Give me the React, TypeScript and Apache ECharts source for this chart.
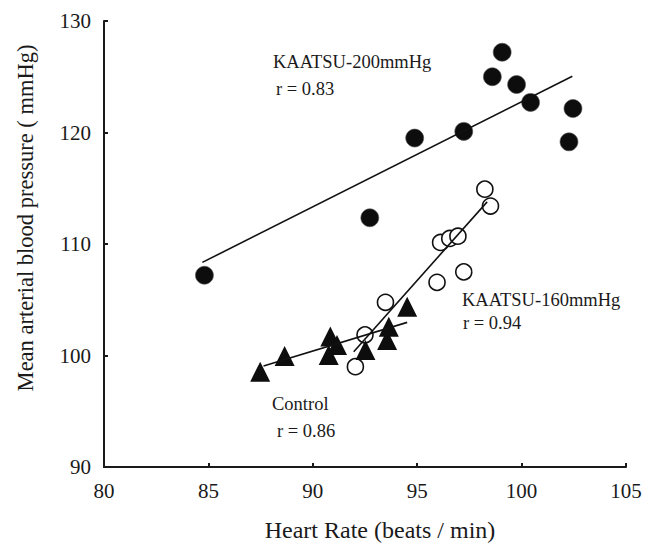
import React, { useEffect, useRef } from "react";
import * as echarts from "echarts";

// KAATSU-200mmHg (filled circles)
const hr200 = [84.81, 92.73, 94.88, 97.23, 98.6, 99.07, 99.76, 100.43, 102.27, 102.46];
const map200 = [107.2, 112.35, 119.5, 120.1, 125.0, 127.2, 124.3, 122.7, 119.16, 122.15];
// KAATSU-160mmHg (open circles)
const hr160 = [92.04, 92.5, 93.48, 95.95, 96.12, 96.56, 96.95, 97.23, 98.24, 98.51];
const map160 = [99.0, 101.85, 104.77, 106.56, 110.14, 110.5, 110.7, 107.5, 114.92, 113.4];
// Control (triangles)
const hrCtl = [87.48, 88.65, 90.76, 90.84, 91.16, 92.52, 93.56, 93.64, 94.52];
const mapCtl = [98.55, 99.95, 100.05, 101.7, 100.94, 100.5, 101.4, 102.58, 104.37];

// regression line end points
const fit200X = [84.71, 102.43];
const fit200Y = [108.35, 125.04];
const fit160X = [91.96, 98.35];
const fit160Y = [100.34, 113.78];
const fitCtlX = [87.64, 94.52];
const fitCtlY = [99.06, 102.97];

const xTicks = { min: 80, max: 105, interval: 5 };
const yTicks = { min: 90, max: 130, interval: 10 };

const zip = (xs: number[], ys: number[]) => xs.map((x, i) => [x, ys[i]]);

const FONT = "'Liberation Serif', 'Times New Roman', serif";
const INK = "#1a1a1a";

export default function App() {
  const ref = useRef<HTMLDivElement>(null);
  useEffect(() => {
    if (!ref.current) return;
    const chart = echarts.init(ref.current, null, { renderer: "svg" });
    const axisCommon = {
      type: "value" as const,
      axisLine: { show: true, lineStyle: { color: INK, width: 2 } },
      axisTick: { show: true, inside: true, length: 4, lineStyle: { color: INK, width: 2 } },
      splitLine: { show: false },
      axisLabel: { color: INK, fontFamily: FONT, fontSize: 21, margin: 13 },
    };
    const txt = (text: string, x: number, y: number, size: number, extra: any = {}) => ({
      type: "text",
      x,
      y,
      ...extra,
      style: {
        text,
        fill: INK,
        fontFamily: FONT,
        fontSize: size,
        textAlign: extra.center ? "center" : "left",
        textVerticalAlign: "middle",
        align: extra.center ? "center" : "left",
        verticalAlign: "middle",
      },
    });
    chart.setOption({
      animation: false,
      backgroundColor: "#ffffff",
      grid: { left: 104, right: 21, top: 21, bottom: 83, containLabel: false },
      xAxis: { ...axisCommon, ...xTicks },
      yAxis: { ...axisCommon, ...yTicks },
      series: [
        {
          type: "scatter",
          data: zip(hr160, map160),
          symbol: "circle",
          symbolSize: 16,
          itemStyle: { color: "#ffffff", borderColor: "#111", borderWidth: 1.6, opacity: 1 },
          z: 2,
        },
        {
          type: "scatter",
          data: zip(hrCtl, mapCtl),
          symbol: "triangle",
          symbolSize: 20,
          itemStyle: { color: "#0d0d0d", opacity: 1 },
          z: 3,
        },
        {
          type: "scatter",
          data: zip(hr200, map200),
          symbol: "circle",
          symbolSize: 18,
          itemStyle: { color: "#0d0d0d", borderColor: "#555", borderWidth: 0.6, opacity: 1 },
          z: 3,
        },
        ...[
          [fit200X, fit200Y],
          [fit160X, fit160Y],
          [fitCtlX, fitCtlY],
        ].map(([xs, ys]) => ({
          type: "line",
          data: zip(xs, ys),
          symbol: "none",
          lineStyle: { color: "#111", width: 1.6 },
          z: 4,
        })),
      ],
      graphic: [
        txt("KAATSU-200mmHg", 273, 62, 18.5),
        txt("r = 0.83", 276, 89, 18.5),
        txt("KAATSU-160mmHg", 462, 300, 18.5),
        txt("r = 0.94", 463, 323, 18.5),
        txt("Control", 272, 404, 18.5),
        txt("r = 0.86", 277, 431, 18.5),
        txt("Heart Rate (beats / min)", 380, 530, 24, { center: true }),
        txt("Mean arterial blood pressure ( mmHg)", 25, 218, 22.5, {
          center: true,
          rotation: Math.PI / 2,
        }),
      ],
    });
    return () => chart.dispose();
  }, []);
  return (
    <div
      ref={ref}
      style={{ position: "fixed", left: 0, top: 0, width: 647, height: 550, background: "#fff" }}
    />
  );
}
